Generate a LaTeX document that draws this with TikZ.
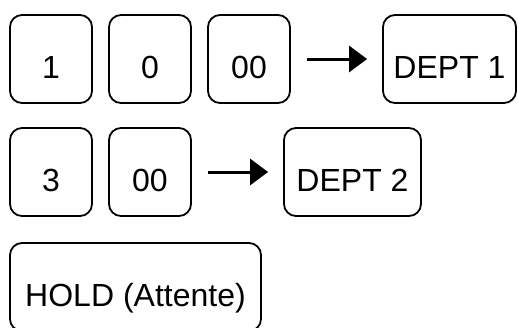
\documentclass[tikz,border=0pt]{standalone}
\usepackage{fontspec}
\setmainfont{Liberation Sans}
\usetikzlibrary{arrows.meta}
\begin{document}
\begin{tikzpicture}[x=1pt,y=-1pt,
  key/.style={draw, line width=1.8pt, rounded corners=12pt,
    minimum height=88pt, inner sep=0pt, text height=39pt, text depth=0pt,
    font=\fontsize{32}{36}\selectfont},
  smallkey/.style={key, minimum width=82pt},
  flow/.style={line width=3pt, -{Triangle[length=18pt,width=26pt]},
    shorten <=16pt, shorten >=15pt}]
\useasboundingbox (0,0) rectangle (518,327);
% first row: 1 0 00 -> DEPT 1
\node[smallkey] (k1)  at (51,59)  {1};
\node[smallkey] (k0)  at (150,59) {0};
\node[smallkey] (k00) at (249,59) {00};
\node[key, minimum width=133pt] (d1) at (449.5,59) {DEPT 1};
% second row: 3 00 -> DEPT 2
\node[smallkey] (k3)   at (51,172)  {3};
\node[smallkey] (k00b) at (150,172) {00};
\node[key, minimum width=137pt] (d2) at (352.5,172) {DEPT 2};
% hold key
\node[key, minimum width=251pt] (hold) at (135.5,287) {HOLD (Attente)};
\draw[flow] (k00) -- (d1);
\draw[flow] (k00b) -- (d2);
\end{tikzpicture}
\end{document}
